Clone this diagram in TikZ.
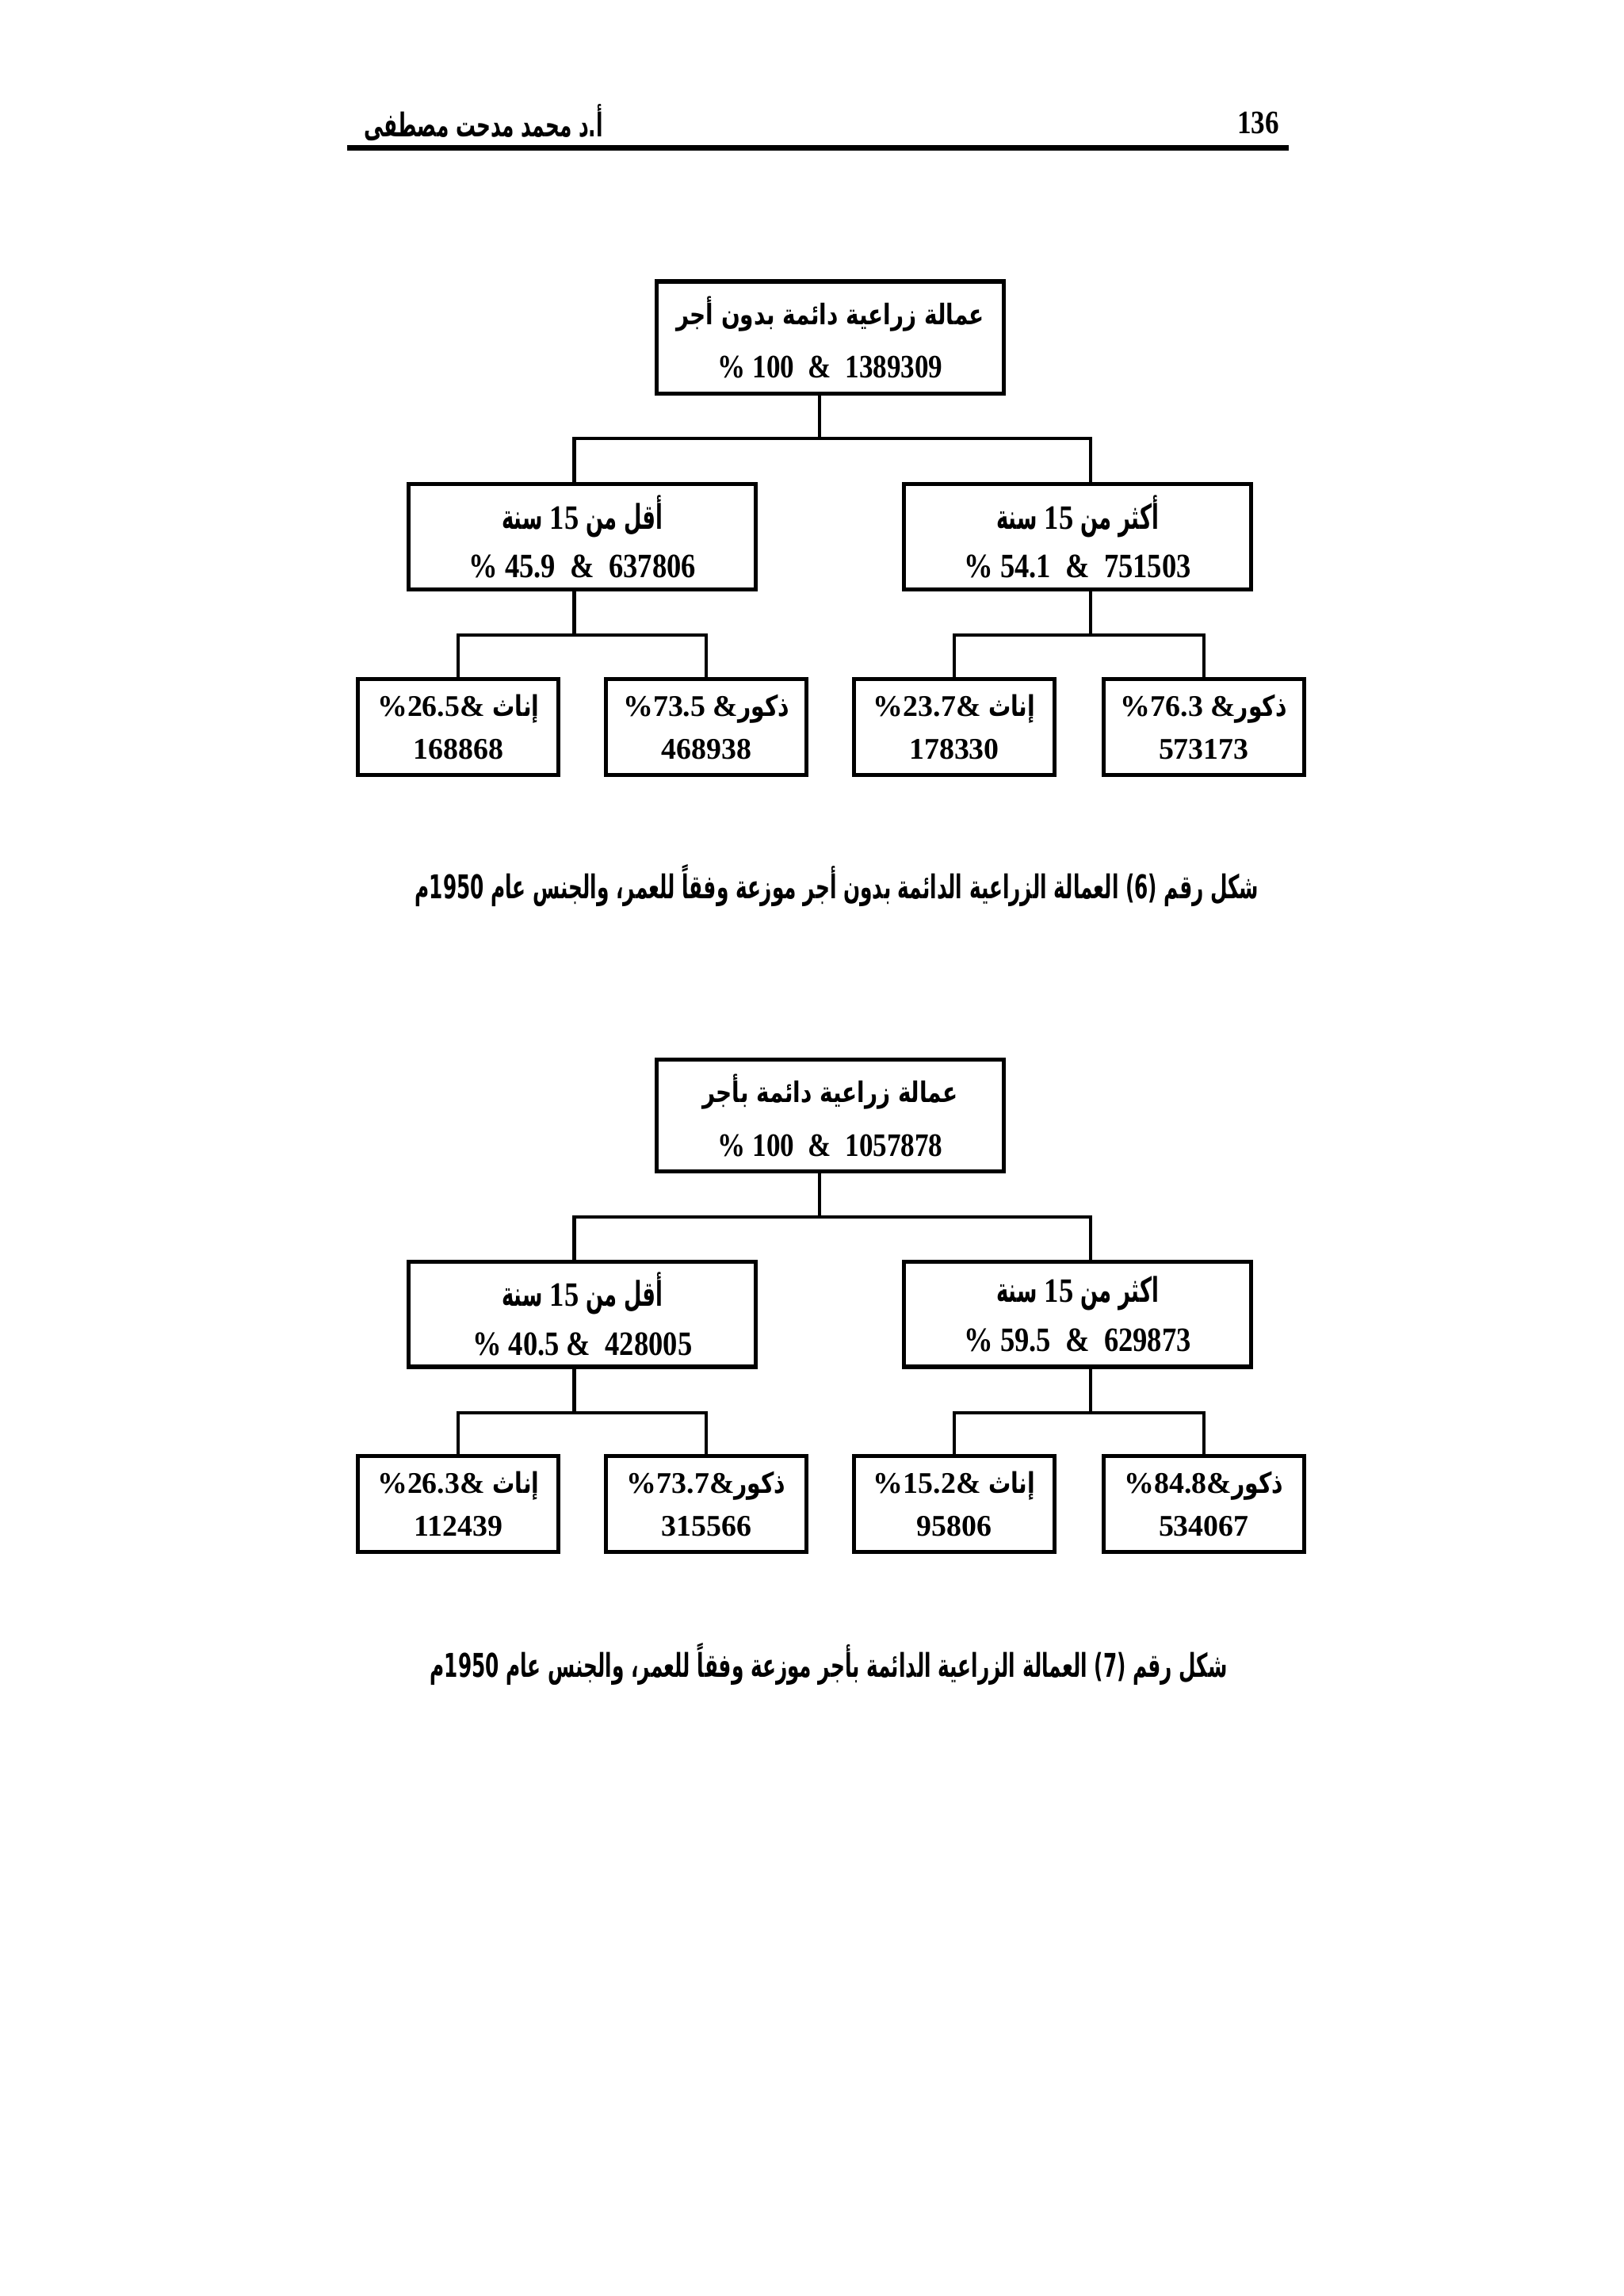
\documentclass[tikz,border=0pt]{standalone}
\usepackage{fontspec}
\setmainfont{Liberation Serif}
\newfontfamily\arabicfont[Script=Arabic]{DejaVu Sans}
\newfontfamily\arabiccond[Script=Arabic,FakeStretch=0.78]{DejaVu Sans}
\newfontfamily\arabicnarrow[Script=Arabic,FakeStretch=0.6]{DejaVu Sans}
\newfontfamily\numcond[FakeStretch=0.85]{Liberation Serif}
\TeXXeTstate=1
\newcommand{\artxt}[1]{\beginR #1\endR}

\tikzset{
  box/.style={draw, line width=1.5pt, align=center, inner sep=0pt},
  topbox/.style={box, minimum width=127.2pt, minimum height=41pt,
    font=\bfseries\fontsize{12}{19.5}\selectfont},
  agebox/.style={box, minimum width=127.2pt, minimum height=38.6pt,
    font=\bfseries\fontsize{12.5}{17.9}\selectfont},
  sexbox/.style={box, minimum width=73.6pt, minimum height=35.2pt,
    font=\bfseries\fontsize{11}{15.7}\selectfont},
  link/.style={line width=1.2pt},
  caption/.style={font=\arabicnarrow\bfseries\fontsize{12}{14}\selectfont},
}
\newcommand{\topar}[1]{{\arabiccond\fontsize{10.4}{19.5}\selectfont\artxt{#1}}}
\newcommand{\agear}[1]{{\arabicnarrow\fontsize{12.5}{17.9}\selectfont\artxt{#1}}}
\newcommand{\sexar}[1]{{\arabiccond\fontsize{10.5}{15.7}\selectfont\artxt{#1}}}

\begin{document}
\begin{tikzpicture}[x=0.5412pt, y=-0.5412pt]
\useasboundingbox (0,0) rectangle (1100,1555);

% page head
\node[anchor=east, font=\arabicnarrow\bfseries\fontsize{12}{14}\selectfont] (author) at (415,83) {\artxt{أ.د محمد مدحت مصطفى}};
\node[anchor=east, font=\numcond\bfseries\fontsize{12}{14}\selectfont] (page) at (873,83) {136};
\draw[line width=2pt] (235,100) -- (873,100);

% figure 6
\node[topbox] (top6) at (562.5,228.5) {\topar{عمالة زراعية دائمة بدون أجر}\\ {\numcond\% 100 \ \& \ 1389309}};
\node[agebox] (less6) at (394.5,363.5) {\agear{أقل من {\numcond 15} سنة}\\ {\numcond\% 45.9 \ \& \ 637806}};
\node[agebox] (more6) at (730,363.5) {\agear{أكثر من {\numcond 15} سنة}\\ {\numcond\% 54.1 \ \& \ 751503}};
\node[sexbox] (fless6) at (310.5,492.5) {\%26.5\& \sexar{إناث}\\ 168868};
\node[sexbox] (mless6) at (478.5,492.5) {\%73.5 \&\sexar{ذكور}\\ 468938};
\node[sexbox] (fmore6) at (646.5,492.5) {\%23.7\& \sexar{إناث}\\ 178330};
\node[sexbox] (mmore6) at (815.5,492.5) {\%76.3 \&\sexar{ذكور}\\ 573173};

\coordinate (s6) at (555,297);
\coordinate (sl6) at (389,297);
\coordinate (sr6) at (739,297);
\draw[link] (s6 |- top6.south) -- (s6);
\draw[link] (less6.north -| sl6) -- (sl6) -- (sr6) -- (more6.north -| sr6);
\coordinate (jl6) at (389,430);
\coordinate (jr6) at (739,430);
\draw[link] (jl6 |- less6.south) -- (jl6);
\draw[link] (fless6.north) |- (jl6) -| (mless6.north);
\draw[link] (jr6 |- more6.south) -- (jr6);
\draw[link] (fmore6.north) |- (jr6) -| (mmore6.north);

\node[caption] (cap6) at (567,600) {\artxt{شكل رقم (6) العمالة الزراعية الدائمة بدون أجر موزعة وفقاً للعمر، والجنس عام 1950م}};

% figure 7
\node[topbox] (top7) at (562.5,755.5) {\topar{عمالة زراعية دائمة بأجر}\\ {\numcond\% 100 \ \& \ 1057878}};
\node[agebox] (less7) at (394.5,890) {\agear{أقل من {\numcond 15} سنة}\\ {\numcond\% 40.5 \& \ 428005}};
\node[agebox] (more7) at (730,890) {\agear{اكثر من {\numcond 15} سنة}\\ {\numcond\% 59.5 \ \& \ 629873}};
\node[sexbox] (fless7) at (310.5,1018.5) {\%26.3\& \sexar{إناث}\\ 112439};
\node[sexbox] (mless7) at (478.5,1018.5) {\%73.7\&\sexar{ذكور}\\ 315566};
\node[sexbox] (fmore7) at (646.5,1018.5) {\%15.2\& \sexar{إناث}\\ 95806};
\node[sexbox] (mmore7) at (815.5,1018.5) {\%84.8\&\sexar{ذكور}\\ 534067};

\coordinate (s7) at (555,824);
\coordinate (sl7) at (389,824);
\coordinate (sr7) at (739,824);
\draw[link] (s7 |- top7.south) -- (s7);
\draw[link] (less7.north -| sl7) -- (sl7) -- (sr7) -- (more7.north -| sr7);
\coordinate (jl7) at (389,957);
\coordinate (jr7) at (739,957);
\draw[link] (jl7 |- less7.south) -- (jl7);
\draw[link] (fless7.north) |- (jl7) -| (mless7.north);
\draw[link] (jr7 |- more7.south) -- (jr7);
\draw[link] (fmore7.north) |- (jr7) -| (mmore7.north);

\node[caption] (cap7) at (561.5,1127) {\artxt{شكل رقم (7) العمالة الزراعية الدائمة بأجر موزعة وفقاً للعمر، والجنس عام 1950م}};
\end{tikzpicture}
\end{document}
